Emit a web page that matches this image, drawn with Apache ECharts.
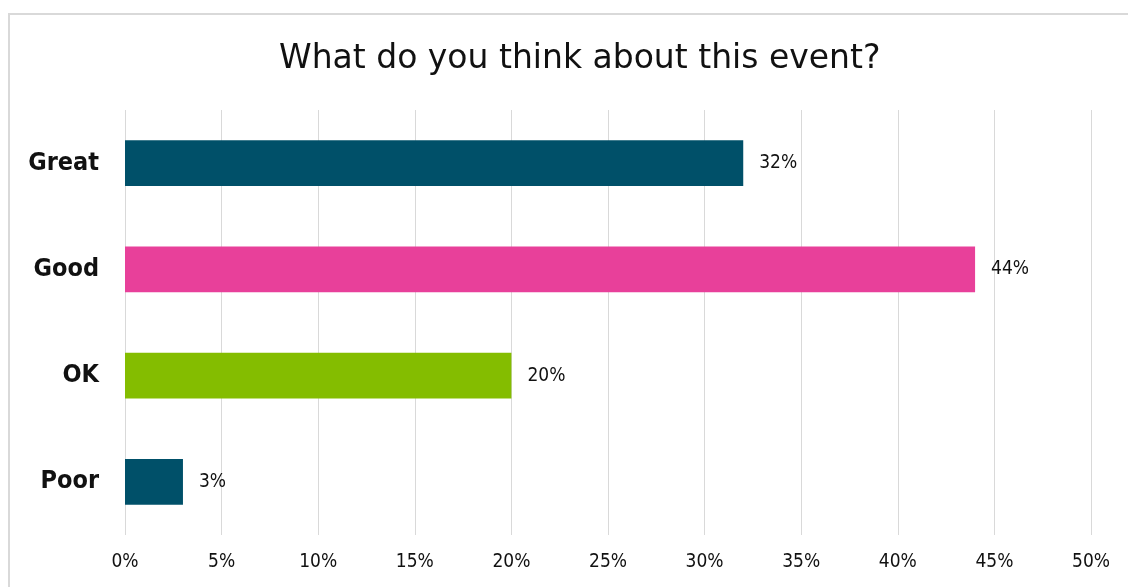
<!DOCTYPE html>
<html><head><meta charset="utf-8">
<script src="https://cdn.jsdelivr.net/npm/echarts@6/dist/echarts.min.js"></script>
<style>html,body{margin:0;padding:0;background:#fff}#c{width:1128px;height:587px}</style>
</head><body><div id="c"></div>
<script>
const categories = ['Great', 'Good', 'OK', 'Poor'];
const values = [32, 44, 20, 3];
const barColors = ['#005069', '#E8409A', '#84BD00', '#005069'];
const xTicks = [0, 5, 10, 15, 20, 25, 30, 35, 40, 45, 50];
const titleText = 'What do you think about this event?';

const FONT = '"DejaVu Sans Condensed", "DejaVu Sans", sans-serif';
const chart = echarts.init(document.getElementById('c'), null, {renderer: 'canvas'});
chart.setOption({
  animation: false,
  backgroundColor: '#fff',
  title: {
    text: titleText, left: 274, top: 38,
    textStyle: {fontFamily: '"DejaVu Sans", sans-serif', fontSize: 33, fontWeight: 'normal', color: '#111'}
  },
  graphic: [{
    type: 'rect', shape: {x: 9, y: 14, width: 1300, height: 800},
    style: {fill: 'none', stroke: '#d9d9d9', lineWidth: 2}, silent: true, z: -1
  }],
  grid: {left: 125, right: 37, top: 110, bottom: 52, containLabel: false},
  xAxis: {
    type: 'value', min: xTicks[0], max: xTicks[xTicks.length - 1], interval: 5,
    axisLine: {show: false}, axisTick: {show: false},
    splitLine: {show: true, lineStyle: {color: '#d9d9d9', width: 1}},
    axisLabel: {formatter: v => v + '%', fontFamily: FONT, fontSize: 19, color: '#111', margin: 18}
  },
  yAxis: {
    type: 'category', data: categories, inverse: true,
    axisLine: {show: false}, axisTick: {show: false},
    axisLabel: {fontFamily: FONT, fontSize: 25, fontWeight: 'bold', color: '#111', margin: 26}
  },
  series: [{
    type: 'bar',
    data: values.map((v, i) => ({value: v, itemStyle: {color: barColors[i]}})),
    barCategoryGap: '57%',
    label: {show: true, position: 'right', distance: 16, formatter: p => p.value + '%',
      fontFamily: FONT, fontSize: 19, color: '#111'}
  }]
});
</script></body></html>
